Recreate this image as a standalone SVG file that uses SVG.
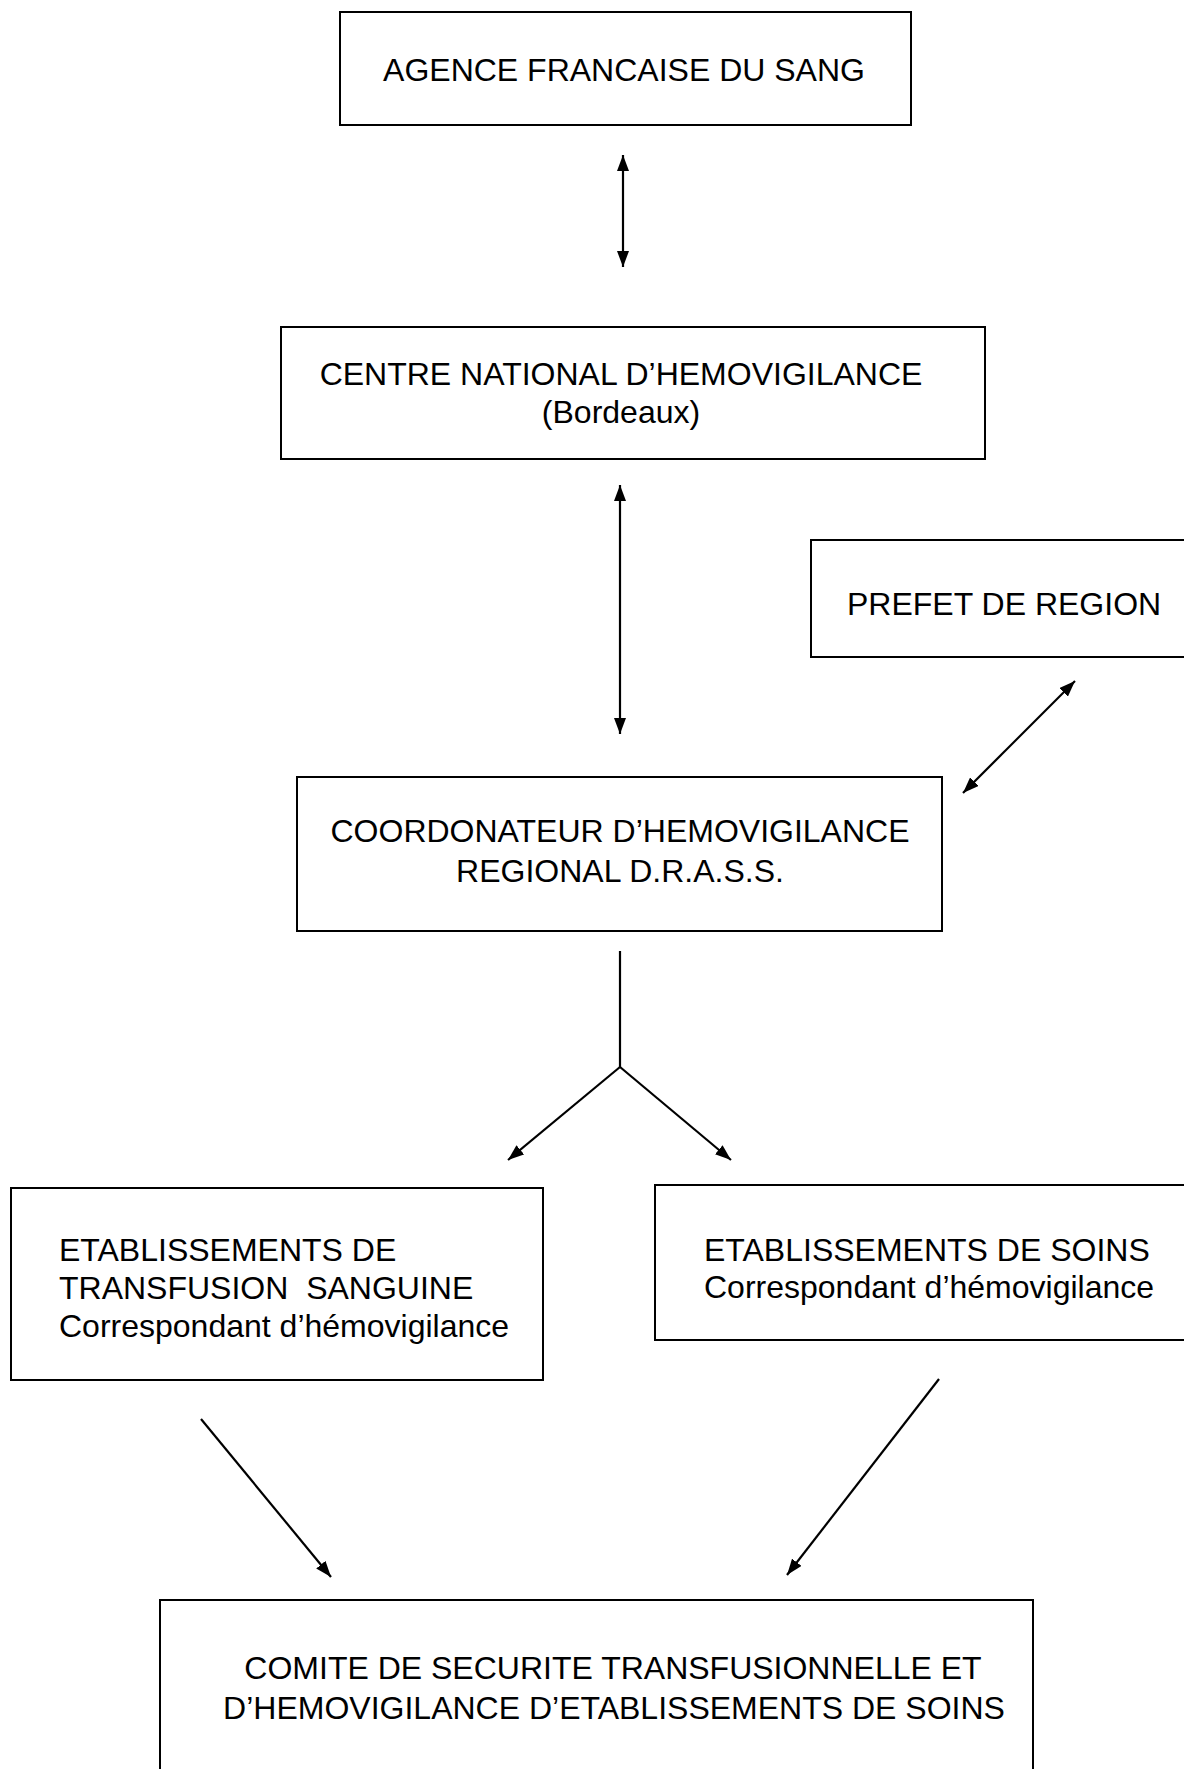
<svg xmlns="http://www.w3.org/2000/svg" width="1184" height="1769" viewBox="0 0 1184 1769">
<defs>
<style>
.box{fill:#fff;stroke:#000;stroke-width:2}
.t{font-family:"Liberation Sans",Arial,sans-serif;font-size:32px;fill:#000}
.c{text-anchor:middle}
.ln{stroke:#000;stroke-width:2.2;fill:none}
</style>
<marker id="ah" viewBox="0 0 16 12" refX="16" refY="6" markerWidth="16" markerHeight="12" markerUnits="userSpaceOnUse" orient="auto-start-reverse">
<path d="M0,0 L16,6 L0,12 z" fill="#000"/>
</marker>
</defs>
<rect width="1184" height="1769" fill="#fff"/>
<g id="connectors">
<line class="ln" x1="623" y1="155" x2="623" y2="267" marker-start="url(#ah)" marker-end="url(#ah)"/>
<line class="ln" x1="620" y1="485" x2="620" y2="734" marker-start="url(#ah)" marker-end="url(#ah)"/>
<line class="ln" x1="1075" y1="681" x2="963" y2="793" marker-start="url(#ah)" marker-end="url(#ah)"/>
<polyline class="ln" points="620,951 620,1067"/>
<line class="ln" x1="620" y1="1067" x2="508" y2="1160" marker-end="url(#ah)"/>
<line class="ln" x1="620" y1="1067" x2="731" y2="1160" marker-end="url(#ah)"/>
<line class="ln" x1="201" y1="1419" x2="331" y2="1577" marker-end="url(#ah)"/>
<line class="ln" x1="939" y1="1379" x2="787" y2="1575" marker-end="url(#ah)"/>
</g>
<g id="afs">
<rect class="box" x="340" y="12" width="571" height="113"/>
<text class="t c" x="624" y="81">AGENCE FRANCAISE DU SANG</text>
</g>
<g id="cnh">
<rect class="box" x="281" y="327" width="704" height="132"/>
<text class="t c" x="621" y="385">CENTRE NATIONAL D’HEMOVIGILANCE</text>
<text class="t c" x="621" y="423">(Bordeaux)</text>
</g>
<g id="prefet">
<rect class="box" x="811" y="540" width="380" height="117"/>
<text class="t" x="847" y="615">PREFET DE REGION</text>
</g>
<g id="coord">
<rect class="box" x="297" y="777" width="645" height="154"/>
<text class="t c" x="620" y="842">COORDONATEUR D’HEMOVIGILANCE</text>
<text class="t c" x="620" y="882">REGIONAL D.R.A.S.S.</text>
</g>
<g id="ets">
<rect class="box" x="11" y="1188" width="532" height="192"/>
<text class="t" x="59" y="1261">ETABLISSEMENTS DE</text>
<text class="t" x="59" y="1299" xml:space="preserve">TRANSFUSION  SANGUINE</text>
<text class="t" x="59" y="1337">Correspondant d’hémovigilance</text>
</g>
<g id="es">
<rect class="box" x="655" y="1185" width="540" height="155"/>
<text class="t" x="704" y="1261">ETABLISSEMENTS DE SOINS</text>
<text class="t" x="704" y="1298">Correspondant d’hémovigilance</text>
</g>
<g id="comite">
<rect class="box" x="160" y="1600" width="873" height="200"/>
<text class="t c" x="613" y="1679">COMITE DE SECURITE TRANSFUSIONNELLE ET</text>
<text class="t c" x="614" y="1719">D’HEMOVIGILANCE D’ETABLISSEMENTS DE SOINS</text>
</g>
</svg>
